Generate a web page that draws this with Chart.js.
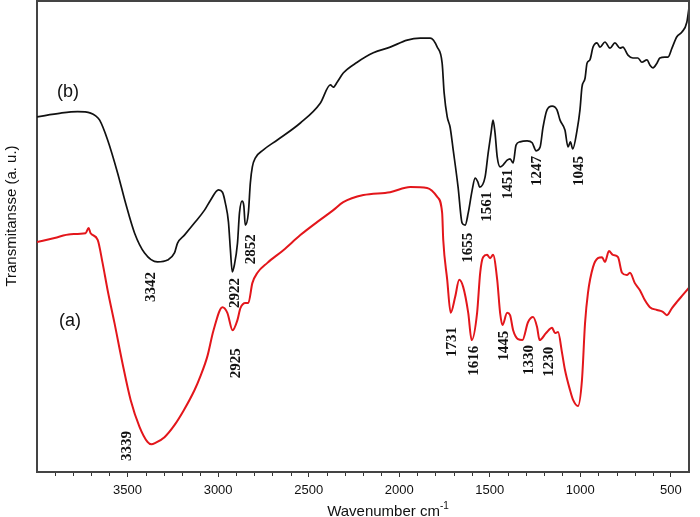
<!DOCTYPE html>
<html>
<head>
<meta charset="utf-8">
<script src="https://cdn.jsdelivr.net/npm/chart.js"></script>
<style>
html,body{margin:0;padding:0;background:#fff;}
#wrap{width:700px;height:517px;position:relative;}
</style>
</head>
<body>
<div id="wrap"><canvas id="c" width="700" height="517"></canvas></div>
<script>
// Spectrum (b) - black
const waveB = [4000,3869,3776,3704,3676,3654,3610,3555,3511,3461,3406,3335,3279,3241,3224,3186,3130,3075,3042,2998,2976,2960,2943,2932,2922,2910,2893,2882,2868,2858,2850,2833,2822,2811,2794,2750,2673,2546,2436,2380,2364,2342,2309,2232,2143,2050,1956,1884,1829,1790,1763,1752,1735,1719,1702,1675,1653,1636,1619,1597,1581,1566,1556,1526,1509,1493,1482,1471,1459,1443,1426,1404,1388,1371,1355,1333,1294,1266,1244,1222,1206,1184,1156,1129,1112,1085,1068,1055,1042,1018,1002,991,974,963,947,930,908,891,864,836,809,781,765,737,710,682,660,632,616,599,577,561,533,516,494,467,439,412,401];
const transB = [75.4,76.2,76.5,76.2,75.6,74.7,70.5,63.5,57.1,50.7,46.5,44.6,45.0,46.5,48.6,50.3,52.9,55.6,57.7,59.9,59.4,57.1,53.1,47.1,42.5,44.0,48.6,55.0,57.5,56.5,52.4,55.0,61.4,64.8,66.7,68.4,70.5,74.1,78.3,82.2,81.7,82.8,84.7,87.0,89.0,90.2,91.7,92.1,92.1,90.2,86.8,80.5,75.4,73.2,68.4,60.5,52.9,52.4,55.0,59.9,62.4,61.6,60.5,62.6,67.7,72.0,74.7,72.0,66.9,64.8,65.2,66.2,66.5,65.6,69.4,70.1,70.3,69.9,68.2,69.0,73.2,76.9,77.7,76.9,74.7,72.6,69.0,70.1,68.6,72.6,76.9,81.7,83.6,86.8,87.5,90.2,91.1,90.2,91.3,90.0,91.1,90.0,90.2,88.5,87.9,87.9,87.0,87.5,86.4,85.8,86.8,87.9,88.1,88.1,90.0,92.4,93.4,95.5,98.3];

// Spectrum (a) - red
const waveA = [4000,3903,3814,3732,3715,3704,3665,3638,3610,3572,3528,3483,3434,3390,3368,3346,3296,3240,3191,3130,3097,3059,3026,2976,2949,2920,2893,2877,2849,2833,2811,2783,2728,2640,2546,2452,2364,2309,2198,2050,1939,1846,1790,1763,1757,1735,1716,1691,1669,1647,1619,1600,1570,1553,1537,1515,1498,1482,1459,1443,1430,1404,1388,1371,1344,1320,1289,1261,1239,1225,1189,1156,1140,1123,1101,1085,1057,1040,1013,991,974,958,930,903,880,864,842,820,792,770,743,726,699,671,644,616,577,544,522,494,467,434,401];
const transA = [48.8,49.7,50.5,50.7,51.8,50.7,49.3,44.4,38.6,31.6,23.1,15.3,9.6,6.4,5.9,6.2,7.4,10.0,13.0,17.4,20.4,24.6,30.0,35.0,33.8,30.1,32.3,34.8,35.9,35.9,40.1,42.3,44.4,47.1,50.3,53.1,55.6,57.3,58.8,59.4,60.5,60.3,58.4,55.0,49.3,40.8,33.8,37.2,40.8,39.3,33.8,28.0,33.8,42.3,45.6,46.1,45.4,46.1,40.8,33.8,31.2,33.8,33.3,30.1,28.2,28.0,31.8,32.9,30.8,28.0,29.5,30.6,29.5,29.7,25.3,21.7,17.4,15.3,14.0,19.5,31.6,38.0,43.5,45.4,45.6,44.6,46.9,46.1,45.6,42.3,41.8,42.3,40.1,38.6,36.5,35.0,34.4,34.0,33.3,34.8,36.1,37.6,39.1];

// Axis tick labels
const xTickLabels = [3500,3000,2500,2000,1500,1000,500];

// Peak annotations
const peakTextB = ['3342','2922','2852','1655','1561','1451','1247','1045'];
const peakWaveB = [3373,2910,2822,1625,1520,1404,1244,1013];
const peakValB  = [39.3,38.0,47.3,47.6,56.3,61.1,63.9,63.9];
const peakTextA = ['3339','2925','1731','1616','1445','1330','1230'];
const peakWaveA = [3506,2904,1713,1592,1426,1289,1178];
const peakValA  = [5.5,23.1,27.6,23.6,26.8,23.8,23.4];
const seriesNames = ['(b)','(a)'];
const seriesNameWave = [3829,3818];
const seriesNameVal = [80.7,32.1];

const ptsB = waveB.map((w,i)=>({x:w,y:transB[i]}));
const ptsA = waveA.map((w,i)=>({x:w,y:transA[i]}));

const AXC = '#444';

const decor = {
  id:'decor',
  afterDraw(chart){
    const {ctx, chartArea:ca, scales:{x,y}} = chart;
    ctx.save();
    // frame top/right
    ctx.strokeStyle = AXC; ctx.lineWidth = 2;
    ctx.beginPath();
    ctx.moveTo(ca.left, ca.top); ctx.lineTo(ca.right, ca.top); ctx.lineTo(ca.right, ca.bottom);
    ctx.stroke();
    // minor ticks every 100
    ctx.lineWidth = 1; ctx.strokeStyle = '#333';
    for(let w=3900; w>400; w-=100){
      if(w%500===0) continue;
      const px = Math.round(x.getPixelForValue(w))+0.5;
      ctx.beginPath(); ctx.moveTo(px, ca.bottom+1); ctx.lineTo(px, ca.bottom+4); ctx.stroke();
    }
    // peak labels
    ctx.fillStyle = '#111';
    ctx.font = 'bold 15px "Liberation Serif", "Times New Roman", serif';
    ctx.textAlign = 'center'; ctx.textBaseline = 'middle';
    const drawRot = (t,w,v)=>{
      const px = x.getPixelForValue(w), py = y.getPixelForValue(v);
      ctx.save(); ctx.translate(px,py); ctx.rotate(-Math.PI/2); ctx.fillText(t,0,1); ctx.restore();
    };
    peakTextB.forEach((t,i)=>drawRot(t,peakWaveB[i],peakValB[i]));
    peakTextA.forEach((t,i)=>drawRot(t,peakWaveA[i],peakValA[i]));
    // series names
    ctx.font = '18px "Liberation Sans", Arial, sans-serif';
    seriesNames.forEach((t,i)=>{
      ctx.fillText(t, x.getPixelForValue(seriesNameWave[i]), y.getPixelForValue(seriesNameVal[i]));
    });
    // y title
    ctx.font = '15px "Liberation Sans", Arial, sans-serif';
    ctx.fillStyle = '#111';
    ctx.save(); ctx.translate(12, 216); ctx.rotate(-Math.PI/2); ctx.fillText('Transmitansse (a. u.)',0,0); ctx.restore();
    // x title with superscript
    ctx.textAlign = 'left';
    const main = 'Wavenumber cm', sup = '-1';
    ctx.font = '15px "Liberation Sans", Arial, sans-serif';
    const mw = ctx.measureText(main).width;
    ctx.font = '10px "Liberation Sans", Arial, sans-serif';
    const sw = ctx.measureText(sup).width;
    const sx = 388 - (mw+sw)/2;
    ctx.font = '15px "Liberation Sans", Arial, sans-serif';
    ctx.fillText(main, sx, 512);
    ctx.font = '10px "Liberation Sans", Arial, sans-serif';
    ctx.fillText(sup, sx+mw, 506);
    ctx.restore();
  }
};

new Chart(document.getElementById('c'), {
  type:'line',
  data:{datasets:[
    {label:'(b)', data:ptsB, borderColor:'#111', borderWidth:1.7, pointRadius:0, cubicInterpolationMode:'monotone', fill:false},
    {label:'(a)', data:ptsA, borderColor:'#e3161b', borderWidth:2, pointRadius:0, cubicInterpolationMode:'monotone', fill:false}
  ]},
  options:{
    responsive:false, animation:false,
    layout:{padding:{top:1,right:11,left:0,bottom:0}},
    plugins:{legend:{display:false}, tooltip:{enabled:false}},
    scales:{
      x:{type:'linear', reverse:true, min:400, max:4000,
        afterBuildTicks(s){ s.ticks = xTickLabels.map(v=>({value:v})); },
        afterFit(s){ s.height = 45; },
        border:{display:true, color:AXC, width:2},
        grid:{display:true, drawOnChartArea:false, drawTicks:true, tickLength:5, color:'#333'},
        ticks:{padding:6, color:'#111', maxRotation:0, minRotation:0, autoSkip:false,
          font:{family:'"Liberation Sans", Arial, sans-serif', size:13},
          callback:(v)=> String(v)}
      },
      y:{min:0, max:100,
        afterFit(s){ s.width = 37; },
        border:{display:true, color:AXC, width:2},
        grid:{display:false},
        ticks:{display:false}
      }
    }
  },
  plugins:[decor]
});
</script>
</body>
</html>
